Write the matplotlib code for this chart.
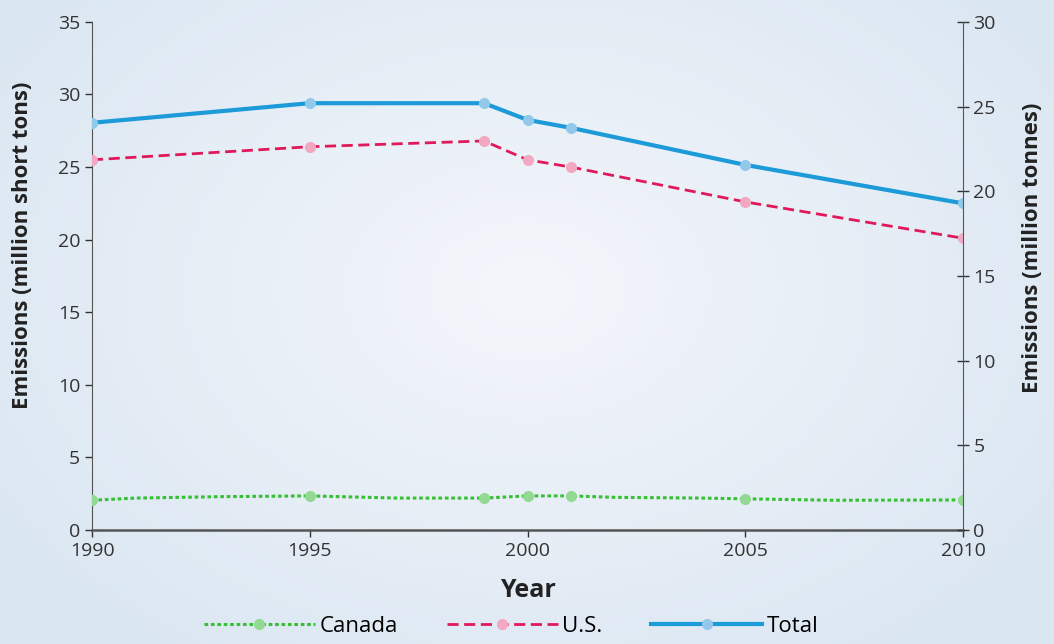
import numpy as np
import matplotlib
matplotlib.use("Agg")
import matplotlib.pyplot as plt
from matplotlib.colors import LinearSegmentedColormap

# emissions, million short tons
years = [1990, 1995, 1999, 2000, 2001, 2005, 2010]
total = [28.05, 29.4, 29.4, 28.25, 27.7, 25.15, 22.5]
us = [25.5, 26.4, 26.8, 25.5, 25.0, 22.6, 20.1]

# Canada, annual
can_years = [1990, 1991, 1993, 1995, 1997, 1999, 2000, 2001, 2002, 2004,
             2005, 2007, 2010]
canada = [2.05, 2.2, 2.3, 2.35, 2.2, 2.2, 2.35, 2.35, 2.25, 2.2, 2.15,
          2.05, 2.07]
can_marks = [can_years.index(y) for y in years]

plt.rcParams["font.family"] = ["Open Sans", "DejaVu Sans"]

fig = plt.figure(figsize=(10.54, 6.44), dpi=100)

# soft sky-coloured backdrop
bg = fig.add_axes([0, 0, 1, 1], zorder=-10)
yy, xx = np.mgrid[0:1:200j, 0:1:300j]
r = np.sqrt(((xx - 0.5) / 0.6) ** 2 + ((yy - 0.45) / 0.7) ** 2)
cmap = LinearSegmentedColormap.from_list("sky", ["#f4f6fb", "#dbe7f2"])
bg.imshow(np.clip(r, 0, 1), cmap=cmap, aspect="auto", extent=[0, 1, 0, 1])
bg.axis("off")

ax = fig.add_axes([0.0873, 0.177, 0.8264, 0.789])
ax.patch.set_alpha(0)

ax.plot(can_years, canada, ls=(0, (1.2, 0.9)), lw=2.2, color="#35c035",
        marker="o", ms=7, mfc="#93d993", mec="#93d993", markevery=can_marks,
        label="Canada", zorder=3)
ax.plot(years, us, ls=(0, (4, 2)), lw=2, color="#e0195a", marker="o", ms=7,
        mfc="#f3a8c2", mec="#f3a8c2", label="U.S.", zorder=3)
ax.plot(years, total, lw=3, color="#1d9ad8", marker="o", ms=7,
        mfc="#92c9ea", mec="#92c9ea", label="Total", zorder=3)

ax.set_xlim(1990, 2010)
ax.set_ylim(0, 35)
ax.set_xticks([1990, 1995, 2000, 2005, 2010])
ax.set_yticks(range(0, 36, 5))
ax.tick_params(direction="out", colors="#333333", labelsize=14,
               length=5, width=1)
for s in ["top", "right"]:
    ax.spines[s].set_visible(False)
for s in ["left", "bottom"]:
    ax.spines[s].set_color("#555555")
ax.spines["bottom"].set_linewidth(1.8)
ax.set_ylabel("Emissions (million short tons)", fontsize=16,
              fontweight="bold", color="#222222")
ax.yaxis.set_label_coords(-0.068, 0.56)
ax.set_xlabel("Year", fontsize=18, fontweight="bold", color="#222222",
              labelpad=13)

ax2 = ax.twinx()
ax2.set_ylim(0, 30)
ax2.set_yticks(range(0, 31, 5))
ax2.tick_params(direction="inout", colors="#333333", labelsize=14,
                length=8, width=1)
for s in ["top", "left", "bottom"]:
    ax2.spines[s].set_visible(False)
ax2.spines["right"].set_color("#555555")
ax2.set_ylabel("Emissions (million tonnes)", fontsize=16, fontweight="bold",
               color="#222222")
ax2.yaxis.set_label_coords(1.068, 0.555)

h, l = ax.get_legend_handles_labels()
fig.legend(h, l, loc="lower center", bbox_to_anchor=(0.485, -0.02),
           ncol=3, frameon=False, fontsize=16, handlelength=5,
           columnspacing=2.2, handletextpad=0.2, markerscale=1)

fig.savefig("out.png", dpi=100)
